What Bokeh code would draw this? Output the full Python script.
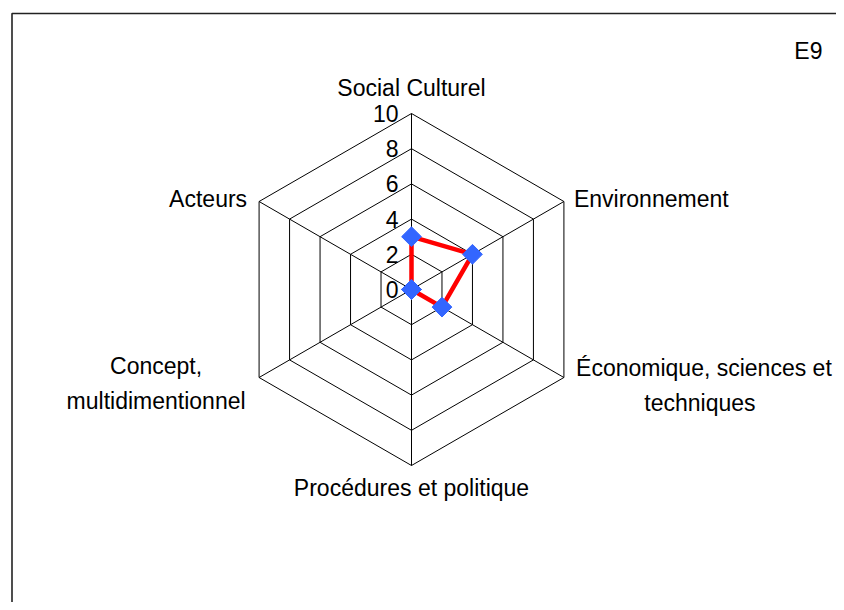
import numpy as np
from bokeh.plotting import figure
from bokeh.models import Label
from bokeh.core.properties import value
from bokeh.embed import file_html
from bokeh.resources import INLINE

# ---- data ----
categories = ["Social Culturel", "Environnement", "Économique, sciences et techniques",
              "Procédures et politique", "Concept, multidimentionnel", "Acteurs"]
label_lines = [["Social Culturel"], ["Environnement"], ["Économique, sciences et", "techniques"],
               ["Procédures et politique"], ["Concept,", "multidimentionnel"], ["Acteurs"]]
values = [3, 4, 2, 0, 0, 0]
levels = [0, 2, 4, 6, 8, 10]
tick_labels = ["0", "2", "4", "6", "8", "10"]
series_name = "E9"
max_level = 10

# ---- geometry / style ----
S = 17.6            # px per unit
CX, CY = 411, 289   # centre in figure pixels
W, H = 836, 602
FONT_NAME = "Liberation Sans"
FONT = value(FONT_NAME)
FS = "23px"

n = len(categories)
ang = np.deg2rad(90 - 360.0 / n * np.arange(n))
cosa, sina = np.cos(ang), np.sin(ang)

p = figure(width=W, height=H, x_range=(-CX / S, (W - CX) / S), y_range=(-(H - CY) / S, CY / S),
           x_axis_type=None, y_axis_type=None, min_border=0, toolbar_location=None,
           output_backend="svg", outline_line_color=None, background_fill_color="white")
p.grid.visible = False

# outer frame
p.quad(left=[(11.5 - CX) / S], right=[(950 - CX) / S], top=[(CY - 13) / S], bottom=[-(750 - CY) / S],
       fill_color=None, line_color="#222222", line_width=1.6)

# hexagon grid
gx = [list(np.append(lv * cosa, lv * cosa[0])) for lv in levels[1:]]
gy = [list(np.append(lv * sina, lv * sina[0])) for lv in levels[1:]]
p.multi_line(gx, gy, line_color="black", line_width=1)
# spokes
p.multi_line([[0, max_level * c] for c in cosa], [[0, max_level * s] for s in sina],
             line_color="black", line_width=1)

# tick labels
p.text(x=[0] * len(levels), y=levels, text=tick_labels, x_offset=-13,
       text_align="right", text_baseline="middle", text_font=FONT, text_font_size=FS, text_color="black")

# category labels (offsets in px from outer vertex)
label_spec = [
    ("center", [(0, -26)]),
    ("left", [(10, -3)]),
    ("center", [(140, -10), (136, 25)]),
    ("center", [(0, 22)]),
    ("center", [(-103, -12), (-103, 23)]),
    ("right", [(-12, -3)]),
]
for i, lines in enumerate(label_lines):
    align, offs = label_spec[i]
    vx, vy = max_level * cosa[i], max_level * sina[i]
    for line, (ox, oy) in zip(lines, offs):
        p.text(x=[vx], y=[vy], text=[line], x_offset=ox, y_offset=oy, text_align=align,
               text_baseline="middle", text_font=FONT, text_font_size=FS, text_color="black")

# series
v = np.array(values, dtype=float)
px_ = list(np.append(v * cosa, v[0] * cosa[0]))
py_ = list(np.append(v * sina, v[0] * sina[0]))
p.line(px_, py_, line_color="#FF0000", line_width=4.5)
p.scatter(list(v * cosa), list(v * sina), marker="square", size=14, angle=np.pi / 4,
          fill_color="#3366FF", line_color="#3366FF")

p.add_layout(Label(x=822, y=H - 50, x_units="screen", y_units="screen", text=series_name,
                   text_align="right", text_baseline="middle", text_font=FONT_NAME,
                   text_font_size=FS, text_color="black"))

open("out.html", "w").write(file_html(p, INLINE))
